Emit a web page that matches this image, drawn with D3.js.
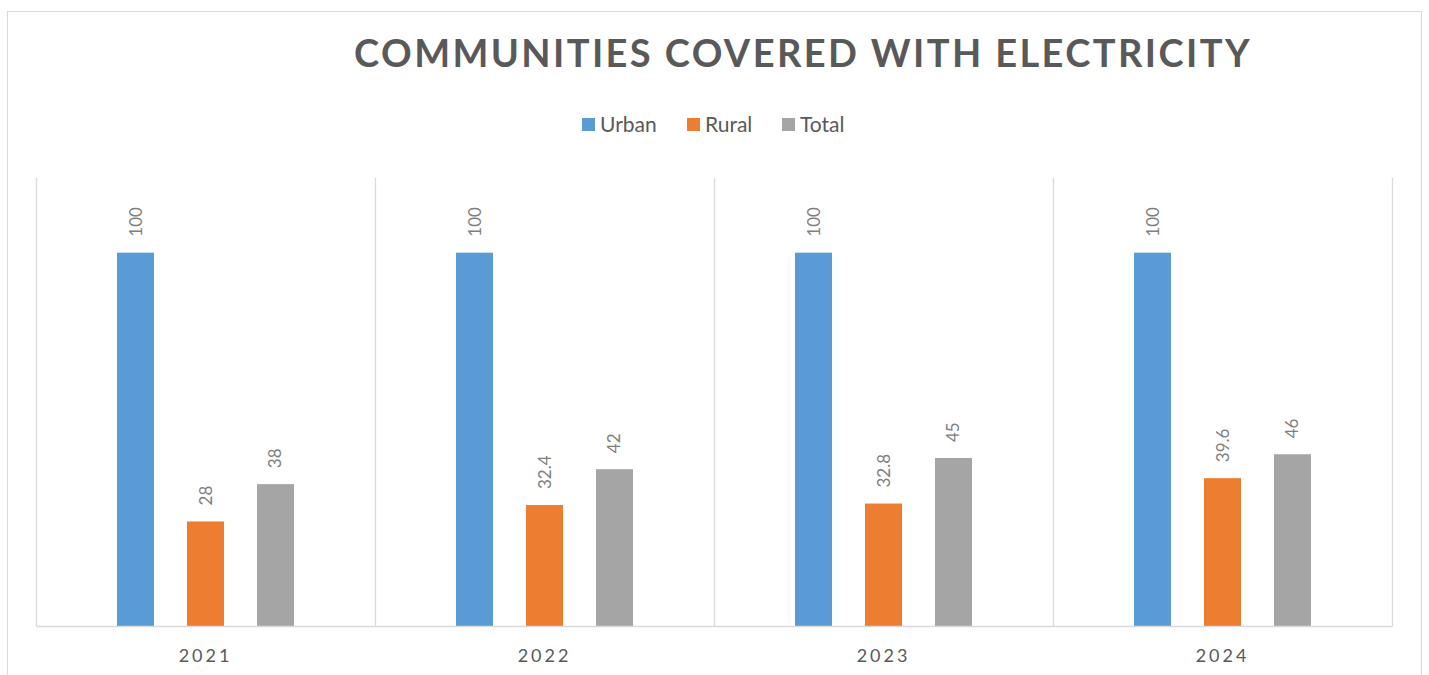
<!DOCTYPE html>
<html><head><meta charset="utf-8">
<script src="https://cdnjs.cloudflare.com/ajax/libs/d3/7.8.5/d3.min.js"></script>
<style>body{margin:0;background:#fff;}svg{display:block;}</style>
</head><body>
<svg id="c" width="1429" height="675"></svg>
<script>
const categories = ["2021","2022","2023","2024"];
const seriesNames = ["Urban","Rural","Total"];
const urban = [100,100,100,100];
const rural = [28,32.4,32.8,39.6];
const total = [38,42,45,46];
const colors = ["#5b9bd5","#ed7d31","#a5a5a5"];
const title = "COMMUNITIES COVERED WITH ELECTRICITY";

const svg = d3.select("#c");
const font = "Lato, 'Open Sans', sans-serif";
svg.append("rect").attr("x",7.5).attr("y",11.5).attr("width",1414).attr("height",700)
  .attr("fill","#fff").attr("stroke","#d9d9d9").attr("stroke-width",1);

const L=36,R=1392,T=178,B=626;
const x = d3.scaleBand().domain(categories).range([L,R]).padding(0);
const y = d3.scaleLinear().domain([0,120]).range([B,T]);
const inner = d3.scaleBand().domain(seriesNames).range([0,x.bandwidth()]).paddingInner(0.471).paddingOuter(1.157);

// gridlines at category boundaries
const bounds = categories.map(c=>x(c)).concat([R]);
svg.append("g").selectAll("line").data(bounds).join("line")
  .attr("x1",d=>d+0.5).attr("x2",d=>d+0.5).attr("y1",T).attr("y2",B)
  .attr("stroke","#d9d9d9").attr("stroke-width",1.3);

const data = [urban,rural,total];
const rows = [];
categories.forEach((c,i)=>seriesNames.forEach((s,j)=>rows.push({c,s,v:data[j][i],col:colors[j]})));

svg.append("g").selectAll("rect").data(rows).join("rect")
  .attr("x",d=>x(d.c)+inner(d.s)).attr("width",inner.bandwidth())
  .attr("y",d=>y(d.v)).attr("height",d=>B-y(d.v)).attr("fill",d=>d.col);

svg.append("g").selectAll("text").data(rows).join("text")
  .attr("transform",d=>`translate(${x(d.c)+inner(d.s)+inner.bandwidth()/2+6},${y(d.v)-16}) rotate(-90)`)
  .attr("font-family",font).attr("font-size",17).attr("fill","#7f7f7f")
  .text(d=>d.v);

// x axis
const ax = svg.append("g").attr("transform",`translate(0,${B})`).call(d3.axisBottom(x).tickSize(0).tickPadding(23));
ax.select(".domain").attr("stroke","#d9d9d9").attr("stroke-width",1.5);
ax.selectAll("text").attr("font-family",font).attr("font-size",18).attr("fill","#595959")
  .attr("letter-spacing","3px").attr("dy","0.71em");

// title
svg.append("text").attr("x",803).attr("y",67).attr("text-anchor","middle")
  .attr("font-family",font).attr("font-weight","bold").attr("font-size",38).attr("letter-spacing","2.4px")
  .attr("fill","#595959").text(title);

// legend
const lx=[582,687,782];
const lg = svg.append("g").selectAll("g").data(seriesNames).join("g")
  .attr("transform",(d,i)=>`translate(${lx[i]},118)`);
lg.append("rect").attr("width",13).attr("height",13).attr("fill",(d,i)=>colors[i]);
lg.append("text").attr("x",18).attr("y",14).attr("font-family",font).attr("font-size",21)
  .attr("fill","#595959").text(d=>d);
</script>
</body></html>
